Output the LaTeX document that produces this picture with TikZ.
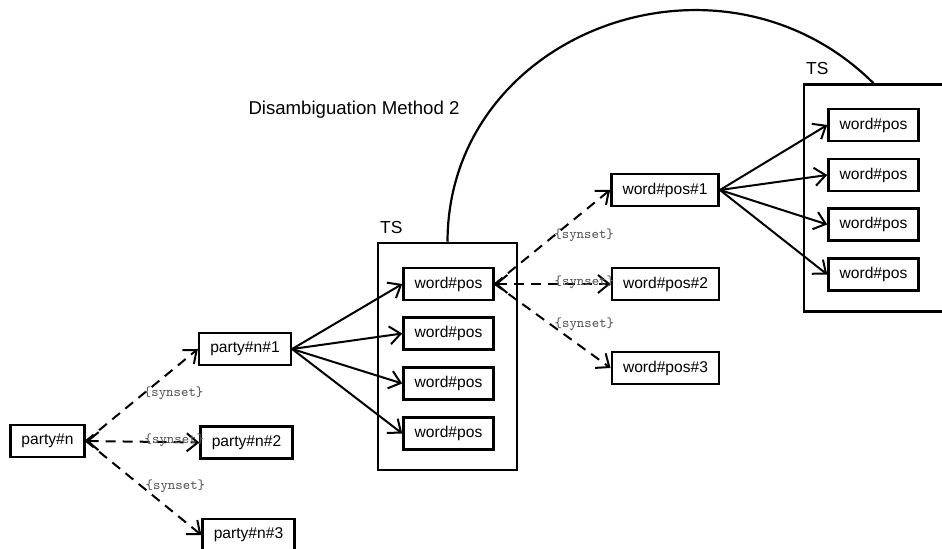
\documentclass[tikz,border=0pt]{standalone}
\usepackage{fontspec}
\setmainfont{Liberation Sans}
\usepackage{tikz}
\usetikzlibrary{arrows.meta}

\tikzset{
  >={Straight Barb[length=5.5pt,width=9pt]},
  wordbox/.style={draw, line width=1.25pt, inner xsep=5.6pt, inner ysep=0pt, minimum height=16pt, font=\fontsize{7.8}{9}\selectfont},
  tsbox/.style={draw, line width=1.25pt, minimum width=69.5pt, minimum height=113.5pt, inner sep=0pt},
  tslabel/.style={font=\fontsize{8.7}{10}\selectfont, anchor=south west, inner xsep=1.5pt, inner ysep=4pt},
  relarrow/.style={line width=1pt, ->},
  synarrow/.style={relarrow, dash pattern=on 5pt off 3.5pt},
  synlabel/.style={pos=0.5, anchor=west, inner sep=0.5pt, yshift=1pt, text=black!65, font=\ttfamily\fontsize{7}{8}\selectfont}
}

\begin{document}
\begin{tikzpicture}[x=0.5pt, y=-0.5pt]
\useasboundingbox (0,0) rectangle (942,549);
\node[font=\fontsize{9.3}{11}\selectfont] (title) at (354,110) {Disambiguation Method 2};

% term and its senses
\node[wordbox] (party) at (47.5,441) {party\#n};
\node[wordbox] (pn1) at (245,349) {party\#n\#1};
\node[wordbox] (pn2) at (246.5,442.5) {party\#n\#2};
\node[wordbox] (pn3) at (248.5,535) {party\#n\#3};

% first TS
\node[tsbox, label={[tslabel]north west:TS}] (ts1) at (447.5,356.5) {};
\node[wordbox] (w11) at (448.5,284) {word\#pos};
\node[wordbox] (w12) at (448.5,333.5) {word\#pos};
\node[wordbox] (w13) at (448.5,383.5) {word\#pos};
\node[wordbox] (w14) at (448.5,433.5) {word\#pos};

% senses of word#pos
\node[wordbox] (wp1) at (665,190) {word\#pos\#1};
\node[wordbox] (wp2) at (665.5,284) {word\#pos\#2};
\node[wordbox] (wp3) at (665.5,368) {word\#pos\#3};

% second TS
\node[tsbox, label={[tslabel]north west:TS}] (ts2) at (873.5,198) {};
\node[wordbox] (w21) at (873.5,125) {word\#pos};
\node[wordbox] (w22) at (873.5,175) {word\#pos};
\node[wordbox] (w23) at (873.5,224.5) {word\#pos};
\node[wordbox] (w24) at (873.5,274.5) {word\#pos};

\draw[synarrow] (party.east) -- (pn1.west) node[synlabel] {\{synset\}};
\draw[synarrow, <->] (party.east) -- (pn2.west) node[synlabel] {\{synset\}};
\draw[synarrow] (party.east) -- (pn3.west) node[synlabel] {\{synset\}};

\draw[relarrow] (pn1.east) -- (w11.west);
\draw[relarrow] (pn1.east) -- (w12.west);
\draw[relarrow] (pn1.east) -- (w13.west);
\draw[relarrow] (pn1.east) -- (w14.west);

\draw[synarrow] (w11.east) -- (wp1.west) node[synlabel] {\{synset\}};
\draw[synarrow, <->] (w11.east) -- (wp2.west) node[synlabel] {\{synset\}};
\draw[synarrow] (w11.east) -- (wp3.west) node[synlabel] {\{synset\}};

\draw[relarrow] (wp1.east) -- (w21.west);
\draw[relarrow] (wp1.east) -- (w22.west);
\draw[relarrow] (wp1.east) -- (w23.west);
\draw[relarrow] (wp1.east) -- (w24.west);

\draw[line width=1.1pt] (ts1.north) .. controls (448,32) and (720,-69) .. (ts2.north);
\end{tikzpicture}
\end{document}
